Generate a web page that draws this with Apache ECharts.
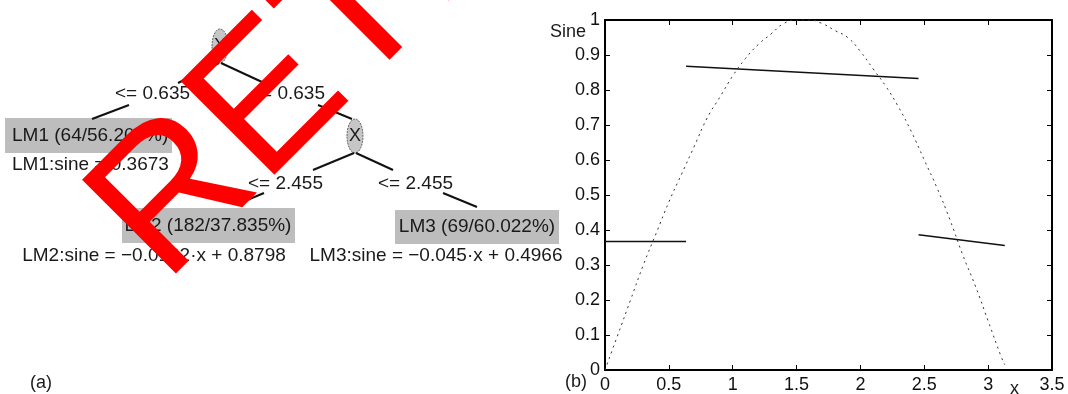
<!DOCTYPE html>
<html><head><meta charset="utf-8">
<script src="https://cdn.jsdelivr.net/npm/echarts@6/dist/echarts.min.js"></script>
<style>html,body{margin:0;padding:0;background:#fff}#c{width:1068px;height:394px}</style>
</head><body><div id="c"></div>
<script>
const FONT = '"Liberation Sans", Arial, Helvetica, sans-serif';

// ---- chart (b) data ----
const sineX = [0, 0.1, 0.2, 0.3, 0.4, 0.5, 0.6, 0.7, 0.8, 0.9, 1.0, 1.1, 1.2, 1.3, 1.4, 1.5, 1.6, 1.7, 1.8, 1.9, 2.0, 2.1, 2.2, 2.3, 2.4, 2.5, 2.6, 2.7, 2.8, 2.9, 3.0, 3.1, 3.13];
const sineY = [0, 0.10, 0.20, 0.30, 0.39, 0.48, 0.56, 0.64, 0.72, 0.78, 0.84, 0.89, 0.93, 0.96, 0.99, 1.00, 1.00, 0.99, 0.97, 0.95, 0.91, 0.86, 0.81, 0.75, 0.68, 0.60, 0.52, 0.43, 0.33, 0.24, 0.14, 0.04, 0.015];
const lm1X = [0, 0.635];     const lm1Y = [0.3673, 0.3673];
const lm2X = [0.635, 2.455]; const lm2Y = [0.8676, 0.8327];
const lm3X = [2.455, 3.13];  const lm3Y = [0.3861, 0.3557];

// ---- tree (a) texts ----
const splitLabels = ['<= 0.635', '<= 0.635', '<= 2.455', '<= 2.455'];
const nodeLabels = ['X', 'X'];
const leafLabels = ['LM1 (64/56.205%)', 'LM2 (182/37.835%)', 'LM3 (69/60.022%)'];
const leafModels = ['LM1:sine = 0.3673', 'LM2:sine = \u22120.0192\u00b7x + 0.8798', 'LM3:sine = \u22120.045\u00b7x + 0.4966'];
const panelLabels = ['(a)', '(b)'];
const axisNames = ['Sine', 'x'];
const watermark = 'RETRACTED';

const pairs = (xs, ys) => xs.map((x, i) => [x, ys[i]]);

function txt(text, x, y, size, align, extra) {
  return Object.assign({
    type: 'text', x: x, y: y, z: 10,
    style: { text: text, font: size + 'px ' + FONT, fill: '#1a1a1a',
             align: align, verticalAlign: 'middle', textAlign: align, textVerticalAlign: 'middle' }
  }, extra || {});
}
function ln(x1, y1, x2, y2) {
  return { type: 'line', z: 9, shape: { x1, y1, x2, y2 }, style: { stroke: '#111', lineWidth: 2 } };
}
function box(x, y, w, h) {
  return { type: 'rect', z: 8, shape: { x, y, width: w, height: h }, style: { fill: '#bdbdbd' } };
}
function node(cx, cy) {
  return { type: 'ellipse', z: 8, shape: { cx, cy, rx: 8, ry: 17 }, style: { fill: '#c6c6c6', stroke: '#666', lineWidth: 1, lineDash: [2, 1] } };
}

const graphics = [
  // tree nodes
  node(220, 46), txt(nodeLabels[0], 220, 46, 18, 'center'),
  node(355, 136), txt(nodeLabels[1], 355, 136, 18, 'center'),
  // edges
  ln(219, 63, 178, 83), ln(221, 63, 262, 82),
  ln(129, 105, 92, 119), ln(318, 105, 352, 119),
  ln(354, 153, 313, 170), ln(356, 153, 393, 170),
  ln(264, 193, 240, 203), ln(443, 193, 477, 207),
  // split labels
  txt(splitLabels[0], 115, 94, 19, 'left'),
  txt(splitLabels[1], 325, 94, 19, 'right'),
  txt(splitLabels[2], 323, 184, 19, 'right'),
  txt(splitLabels[3], 378, 184, 19, 'left'),
  // leaves
  box(5, 118, 167, 35), txt(leafLabels[0], 12, 136, 19, 'left'),
  txt(leafModels[0], 12, 165, 19, 'left'),
  box(122, 208, 173, 35), txt(leafLabels[1], 208, 226, 19, 'center'),
  txt(leafModels[1], 154, 256, 19, 'center'),
  box(395, 210, 164, 34), txt(leafLabels[2], 477, 227, 19, 'center'),
  txt(leafModels[2], 436, 256, 19, 'center'),
  // panel labels and axis names
  txt(panelLabels[0], 30, 383, 18, 'left'),
  txt(panelLabels[1], 565, 382, 18, 'left'),
  txt(axisNames[0], 550, 32, 18, 'left'),
  txt(axisNames[1], 1010, 389, 18, 'left'),
  // red watermark
  { type: 'text', x: 127, y: 247, rotation: Math.PI / 4, z: 100,
    style: { text: watermark, font: '193px ' + FONT, fill: '#ff0000',
             align: 'left', verticalAlign: 'middle', textAlign: 'left', textVerticalAlign: 'middle' } }
];

const axisLineStyle = { color: '#000', width: 2 };
function xAx(pos, labels) {
  return { type: 'value', min: 0, max: 3.5, interval: 0.5, position: pos,
    axisLine: { show: true, onZero: false, lineStyle: axisLineStyle },
    axisTick: { show: true, inside: true, length: 5, lineStyle: { color: '#000', width: 1 } },
    axisLabel: { show: labels, color: '#111', fontSize: 18, fontFamily: FONT, margin: 6 },
    splitLine: { show: false } };
}
function yAx(pos, labels) {
  return { type: 'value', min: 0, max: 1, interval: 0.1, position: pos,
    axisLine: { show: true, onZero: false, lineStyle: axisLineStyle },
    axisTick: { show: true, inside: true, length: 5, lineStyle: { color: '#000', width: 1 } },
    axisLabel: { show: labels, color: '#111', fontSize: 18, fontFamily: FONT, margin: 5 },
    splitLine: { show: false } };
}

const chart = echarts.init(document.getElementById('c'), null, { renderer: 'canvas' });
chart.setOption({
  animation: false,
  backgroundColor: '#fff',
  grid: { left: 605, top: 20, right: 16, bottom: 21, containLabel: false },
  xAxis: [xAx('bottom', true), xAx('top', false)],
  yAxis: [yAx('left', true), yAx('right', false)],
  series: [
    { type: 'line', data: pairs(sineX, sineY), showSymbol: false, smooth: true,
      lineStyle: { color: '#333', width: 1, type: [2, 4] } },
    { type: 'line', data: pairs(lm1X, lm1Y), showSymbol: false, lineStyle: { color: '#111', width: 1.5 } },
    { type: 'line', data: pairs(lm2X, lm2Y), showSymbol: false, lineStyle: { color: '#111', width: 1.5 } },
    { type: 'line', data: pairs(lm3X, lm3Y), showSymbol: false, lineStyle: { color: '#111', width: 1.5 } }
  ],
  graphic: graphics
});
</script>
</body></html>
